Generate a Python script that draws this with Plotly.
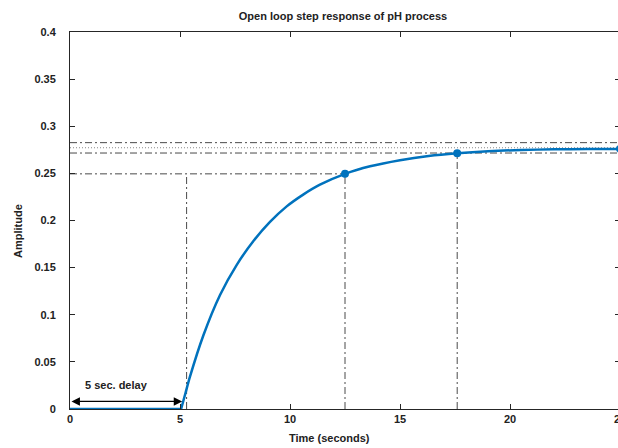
import plotly.graph_objects as go

# ---- data ----
time_flat = [0, 5.05]
amp_flat = [0, 0]
time_rise = [5.05, 5.25, 5.45, 6.06, 6.82, 7.58, 8.33, 9.09, 9.85, 10.6, 11.36, 12.5,
             13.64, 15.0, 16.3, 17.6, 19.0, 20.5, 22.0, 23.5, 25.0]
amp_rise = [0, 0.017, 0.034, 0.078, 0.121, 0.153, 0.178, 0.1985, 0.2150, 0.2275, 0.2380, 0.2495,
            0.2575, 0.2640, 0.2685, 0.2714, 0.2735, 0.2748, 0.2755, 0.2758, 0.2760]
marker_t = [12.5, 17.6, 25.0]
marker_a = [0.2495, 0.2714, 0.2760]
steady_state = 0.2772
upper_band = 0.2826
lower_band = 0.2716
rise_level = 0.2495
rise_start_t = 5.3
rise_end_t = 12.5
settle_t = 17.6
delay_t = 5.1
x_ticks = [0, 5, 10, 15, 20, 25]
y_ticks = [0, 0.05, 0.1, 0.15, 0.2, 0.25, 0.3, 0.35, 0.4]
y_tick_text = ["0", "0.05", "0.1", "0.15", "0.2", "0.25", "0.3", "0.35", "0.4"]

BLUE = "#0072BD"
GRAY = "#4a4a4a"
FONT = "Liberation Sans, Arial, sans-serif"
DASHDOT = "7px,3px,2px,3px"

W, H = 620, 448
L, R, T, B = 70, 0, 32, 39
PW = W - L - R
PH = H - T - B

fig = go.Figure()

# reference lines
for lv, col, dsh in [(upper_band, GRAY, DASHDOT), (steady_state, "#8a8a8a", "1px,2px"),
                     (lower_band, GRAY, DASHDOT)]:
    fig.add_trace(go.Scatter(x=[0, 25], y=[lv, lv], mode="lines",
                             line=dict(color=col, width=1, dash=dsh), hoverinfo="skip"))
fig.add_trace(go.Scatter(x=[0, rise_end_t], y=[rise_level, rise_level], mode="lines",
                         line=dict(color=GRAY, width=1, dash=DASHDOT), hoverinfo="skip"))
for tv, top in [(rise_start_t, rise_level), (rise_end_t, rise_level), (settle_t, lower_band)]:
    fig.add_trace(go.Scatter(x=[tv, tv], y=[0, top], mode="lines",
                             line=dict(color=GRAY, width=1, dash=DASHDOT), hoverinfo="skip"))

# response curve
fig.add_trace(go.Scatter(x=time_flat, y=amp_flat, mode="lines",
                         line=dict(color=BLUE, width=2.5)))
fig.add_trace(go.Scatter(x=time_rise, y=amp_rise, mode="lines",
                         line=dict(color=BLUE, width=2.5, shape="spline", smoothing=0.8)))
fig.add_trace(go.Scatter(x=marker_t, y=marker_a, mode="markers", cliponaxis=False,
                         marker=dict(color=BLUE, size=8)))

fig.update_layout(
    width=W, height=H,
    margin=dict(l=L, r=R, t=T, b=B, pad=0, autoexpand=False),
    paper_bgcolor="white", plot_bgcolor="white",
    showlegend=False,
    hovermode=False,
    font=dict(family=FONT, size=11, color="#222222", weight="bold"),
    title=dict(text="Open loop step response of pH process", x=343/W, xanchor="center",
               y=1 - 16/H, yanchor="middle", font=dict(size=11, weight="bold")),
)
fig.update_xaxes(range=[0, 25], tickvals=x_ticks, ticks="inside", ticklen=5,
                 showline=True, linecolor="#262626", linewidth=1, mirror="ticks",
                 tickcolor="#262626", showgrid=False, zeroline=False,
                 ticklabeloverflow="allow", automargin=False,
                 tickfont=dict(size=11, weight="bold"))
fig.update_yaxes(range=[0, 0.4], tickvals=y_ticks, ticktext=y_tick_text,
                 ticks="inside", ticklen=5, automargin=False,
                 showline=True, linecolor="#262626", linewidth=1, mirror="ticks",
                 tickcolor="#262626", showgrid=False, zeroline=False, ticklabelstandoff=11,
                 tickfont=dict(size=11, weight="bold"))

# axis titles
fig.add_annotation(x=(329 - L) / PW, xref="paper", y=0, yref="paper", yanchor="middle", yshift=-29,
                   text="Time (seconds)", showarrow=False, font=dict(size=11, weight="bold"))
fig.add_annotation(x=(18 - L) / PW, xref="paper", xanchor="center", y=(H - B - 231) / PH, yref="paper",
                   text="Amplitude", textangle=-90, showarrow=False, font=dict(size=11, weight="bold"))
# delay arrow
fig.add_annotation(x=delay_t, y=0.008, xref="x", yref="y", ax=0, ay=0.008, axref="x", ayref="y",
                   text="", showarrow=True, arrowside="end+start", arrowhead=2, arrowsize=1.3,
                   arrowwidth=1.3, arrowcolor="black")
fig.add_annotation(x=2.1, y=0.026, xref="x", yref="y", text="5 sec. delay", showarrow=False,
                   font=dict(size=11, weight="bold"))

page_js = ("document.body.style.margin='0';"
           "document.body.style.overflow='hidden';"
           "document.documentElement.style.overflow='hidden';")
fig.write_html("out.html", post_script=page_js, config={"displayModeBar": False})
